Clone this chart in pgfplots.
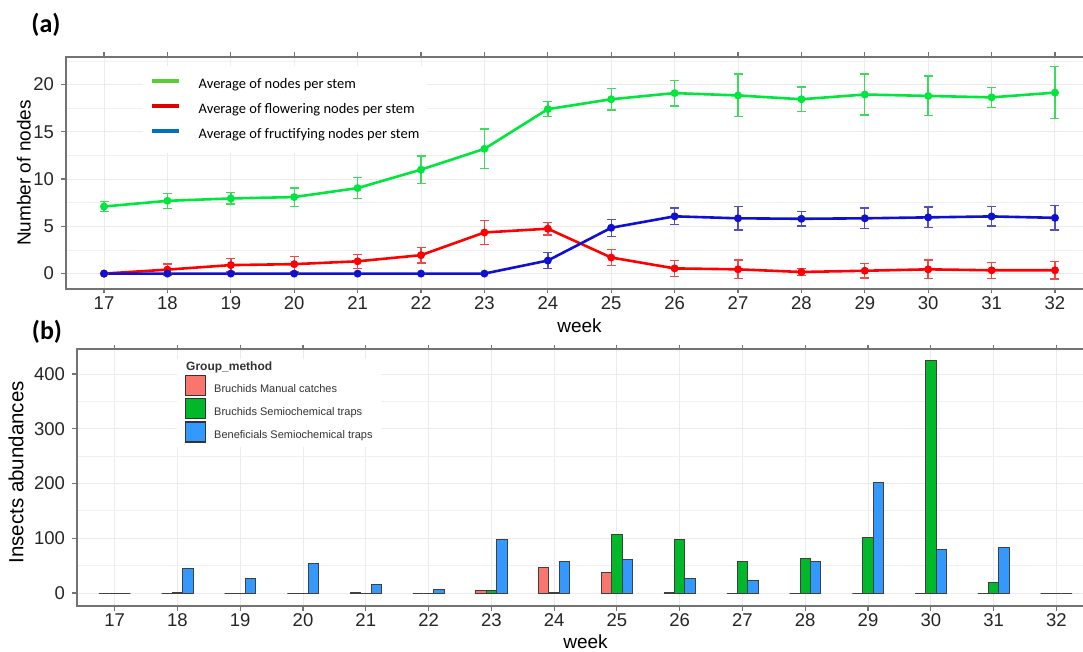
\documentclass[border=0pt]{standalone}
\usepackage{pgfplots}
\pgfplotsset{compat=1.18}
\usepackage{fontspec}
\setmainfont{Liberation Sans}
\newfontfamily\carlito{Carlito}

\definecolor{gline}{HTML}{00E63C}
\definecolor{gerr}{HTML}{3CDC5A}
\definecolor{rline}{HTML}{FF0000}
\definecolor{rerr}{HTML}{F04848}
\definecolor{bline}{HTML}{1010D0}
\definecolor{berr}{HTML}{5050C0}
\definecolor{keyG}{HTML}{5DCB37}
\definecolor{keyR}{HTML}{E00000}
\definecolor{keyB}{HTML}{0070C0}
\definecolor{barR}{HTML}{F8766D}
\definecolor{barG}{HTML}{00B82A}
\definecolor{barB}{HTML}{3399FF}

\pgfplotsset{
  gg/.style={
    scale only axis,
    axis line style={black!55, line width=1.5pt},
    tick style={black!55, line width=1.2pt},
    tick align=outside, major tick length=4.5pt, minor tick length=0pt,
    xmajorgrids, ymajorgrids, yminorgrids,
    major grid style={black!8, line width=1pt},
    minor grid style={black!6, line width=0.9pt},
    xmin=16.4, xmax=32.6, xtick={17,...,32},
    ticklabel style={font=\fontsize{18.5}{20}\selectfont, text=black!85},
    yticklabel style={xshift=-4pt},
    /pgf/number format/assume math mode=true,
    label style={font=\fontsize{19}{21}\selectfont},
  },
  lkey/.style={legend image code/.code={\draw[##1, line cap=butt] (0pt,3.4pt) -- (26.6pt,3.4pt); \path (44.5pt,3.4pt);}},
  sqkey/.style={legend image code/.code={\draw[##1, line width=1.2pt, draw=black!80] (0pt,-6pt) rectangle (20pt,14pt); \path (28pt,0pt);}},
  errs/.style={error bars/.cd, y dir=both, y explicit,
    error bar style={line width=1.4pt, #1},
    error mark options={rotate=90, line width=1.4pt, #1, mark size=4.5pt}},
}

\begin{document}
\begin{tikzpicture}
\useasboundingbox (0pt,0pt) rectangle (1083pt,651pt);
\node[font=\carlito\bfseries\fontsize{26}{28}\selectfont] at (46pt,626pt) {(a)};
\node[font=\carlito\bfseries\fontsize{26}{28}\selectfont] at (47pt,319pt) {(b)};

% (a) number of nodes
\begin{axis}[gg, at={(66pt,362pt)}, anchor=south west, width=1027pt, height=232pt,
  ymin=-1.63, ymax=22.92, ytick={0,5,10,15,20}, minor ytick={2.5,7.5,12.5,17.5,22.5},
  xlabel={week}, ylabel={Number of nodes},
  xlabel style={at={(axis description cs:0.5,-0.159)}, anchor=center},
  ylabel style={at={(axis description cs:-0.041,0.5)}, anchor=center},
  lkey, legend cell align=left,
  legend style={at={(axis description cs:0.0745,0.962)}, anchor=north west,
    draw=none, fill=white, inner xsep=7.5pt, inner ysep=12pt,
    font=\carlito\fontsize{14.5}{16}\selectfont,
    nodes={inner sep=0pt, text height=10pt, text depth=3pt}, row sep=12pt},
]
\addlegendimage{line width=4pt, keyG}
\addlegendentry{Average of nodes per stem}
\addlegendimage{line width=4pt, keyR}
\addlegendentry{Average of flowering nodes per stem}
\addlegendimage{line width=4pt, keyB}
\addlegendentry{Average of fructifying nodes per stem}

\addplot[forget plot, gline, line width=2.6pt, mark=*, mark size=2.6pt, errs=gerr] coordinates {
  (17,7.1) +- (0,0.55) (18,7.7) +- (0,0.8) (19,7.95) +- (0,0.6) (20,8.1) +- (0,0.97)
  (21,9.05) +- (0,1.12) (22,11.0) +- (0,1.45) (23,13.2) +- (0,2.1) (24,17.4) +- (0,0.8)
  (25,18.45) +- (0,1.15) (26,19.1) +- (0,1.35) (27,18.85) +- (0,2.25) (28,18.45) +- (0,1.28)
  (29,18.95) +- (0,2.15) (30,18.8) +- (0,2.1) (31,18.65) +- (0,1.05) (32,19.15) +- (0,2.75)
};
\addplot[forget plot, rline, line width=2.6pt, mark=*, mark size=2.6pt, errs=rerr] coordinates {
  (17,0) +- (0,0) (18,0.42) +- (0,0.6) (19,0.9) +- (0,0.72) (20,1.0) +- (0,0.83)
  (21,1.3) +- (0,0.75) (22,1.95) +- (0,0.83) (23,4.35) +- (0,1.3) (24,4.75) +- (0,0.65)
  (25,1.7) +- (0,0.83) (26,0.55) +- (0,0.83) (27,0.45) +- (0,0.98) (28,0.17) +- (0,0.37)
  (29,0.3) +- (0,0.75) (30,0.45) +- (0,0.98) (31,0.35) +- (0,0.85) (32,0.35) +- (0,0.92)
};
\addplot[forget plot, bline, line width=2.6pt, mark=*, mark size=2.6pt, errs=berr] coordinates {
  (17,0) +- (0,0) (18,0) +- (0,0) (19,0) +- (0,0) (20,0) +- (0,0)
  (21,0) +- (0,0) (22,0) +- (0,0) (23,0) +- (0,0) (24,1.38) +- (0,0.85)
  (25,4.85) +- (0,0.9) (26,6.06) +- (0,0.88) (27,5.85) +- (0,1.25) (28,5.8) +- (0,0.75)
  (29,5.85) +- (0,1.1) (30,5.95) +- (0,1.1) (31,6.05) +- (0,1.02) (32,5.9) +- (0,1.3)
};
\end{axis}

% (b) insect abundances
\begin{axis}[gg, at={(77pt,45pt)}, anchor=south west, width=1017pt, height=257pt,
  ymin=-23.7, ymax=445.7, ytick={0,100,200,300,400}, minor ytick={50,150,250,350},
  ybar, bar width=0.1667,
  xlabel={week}, ylabel={Insects abundances},
  xlabel style={at={(axis description cs:0.5,-0.140)}, anchor=center},
  ylabel style={at={(axis description cs:-0.06,0.52)}, anchor=center, font=\fontsize{20.5}{22}\selectfont},
  legend cell align=left,
  legend style={at={(axis description cs:0.0983,0.962)}, anchor=north west,
    draw=none, fill=white, inner xsep=8pt, inner ysep=4pt,
    font=\fontsize{11}{13}\selectfont, text=black!80,
    nodes={inner sep=0pt, text height=8pt, text depth=2pt}, row sep=2pt},
]
\addlegendimage{empty legend}
\addlegendentry{\hspace{-28pt}\bfseries\fontsize{12}{14}\selectfont Group\_method}
\addplot[fill=barR, draw=black!75, line width=0.9pt, bar shift=-0.1667, sqkey] coordinates {
  (17,0) (18,0) (19,0) (20,0) (21,1) (22,0) (23,4) (24,46)
  (25,37) (26,1) (27,0) (28,0) (29,0) (30,0) (31,0) (32,0)
};
\addlegendentry{Bruchids Manual catches}
\addplot[fill=barG, draw=black!75, line width=0.9pt, bar shift=0, sqkey] coordinates {
  (17,0) (18,1) (19,0) (20,0) (21,0) (22,0) (23,4) (24,1)
  (25,107) (26,97) (27,58) (28,63) (29,101) (30,424) (31,20) (32,0)
};
\addlegendentry{Bruchids Semiochemical traps}
\addplot[fill=barB, draw=black!75, line width=0.9pt, bar shift=0.1667, sqkey] coordinates {
  (17,0) (18,45) (19,27) (20,54) (21,15) (22,7) (23,97) (24,57)
  (25,62) (26,26) (27,23) (28,58) (29,202) (30,80) (31,84) (32,0)
};
\addlegendentry{Beneficials Semiochemical traps}
\end{axis}
\end{tikzpicture}
\end{document}
